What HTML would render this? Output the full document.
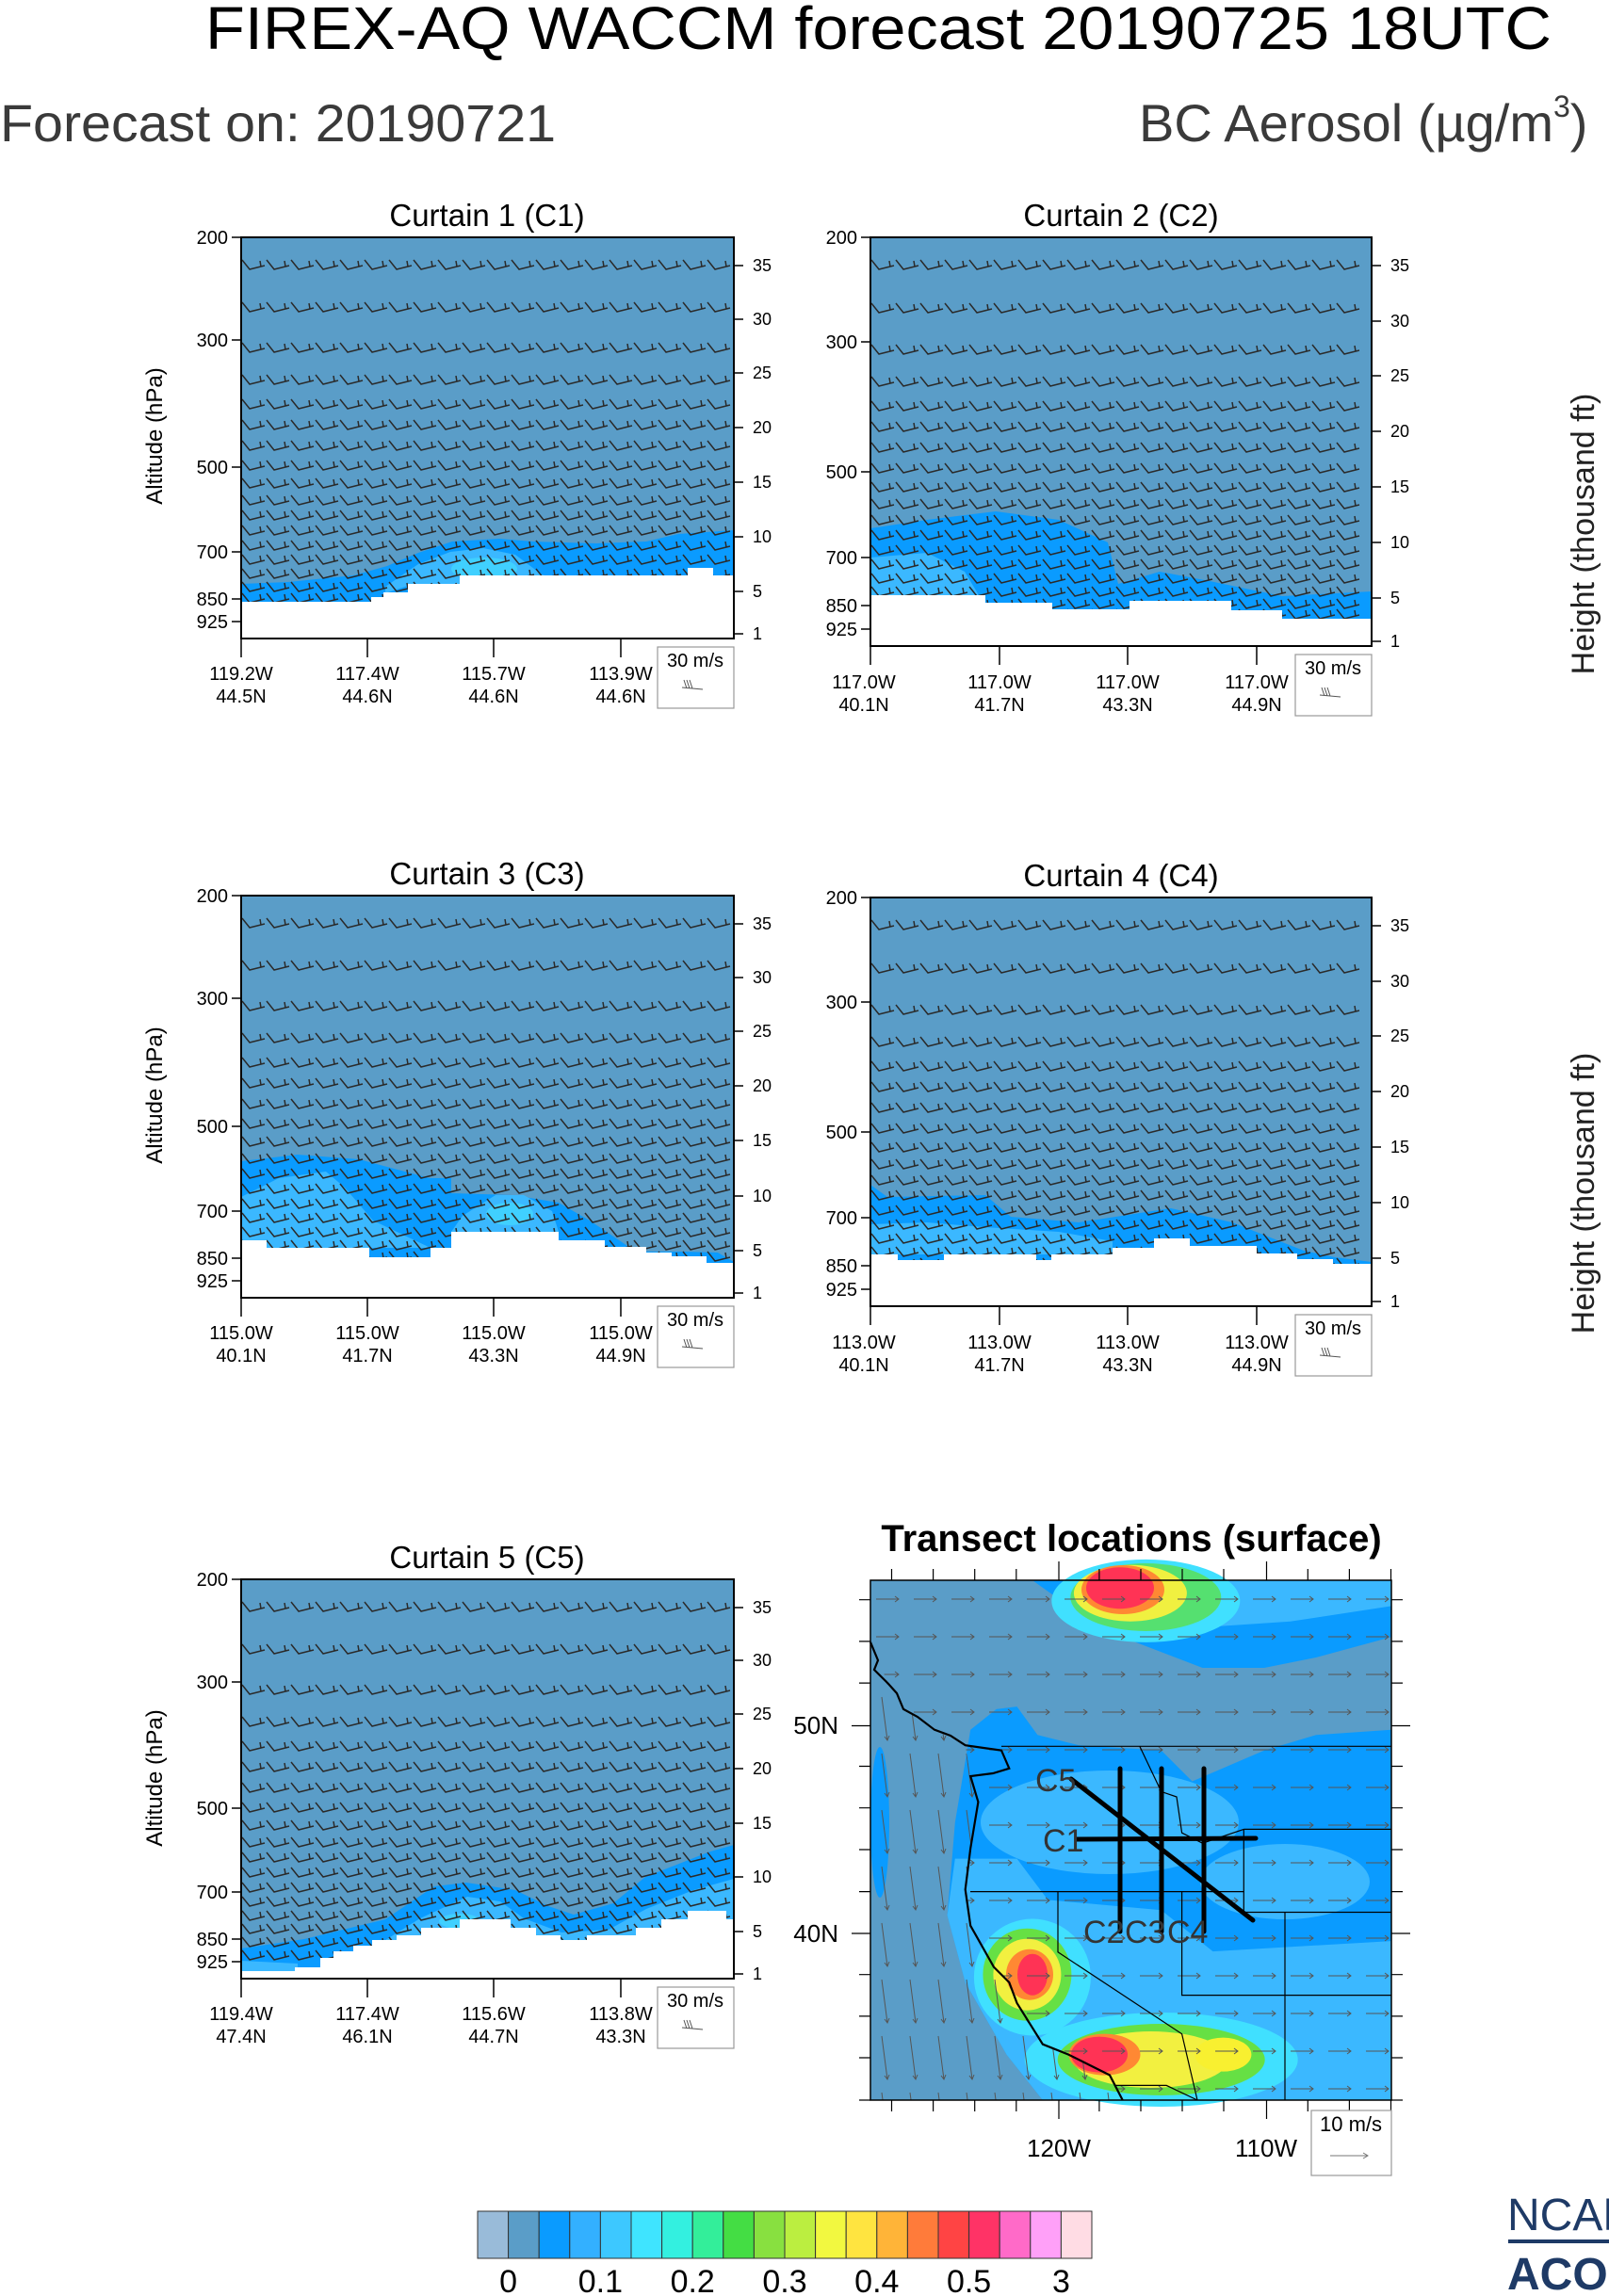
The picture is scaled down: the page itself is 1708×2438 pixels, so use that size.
<!DOCTYPE html>
<html><head><meta charset="utf-8"><style>
html,body{margin:0;padding:0;background:#fff}
svg{display:block}
text{font-family:"Liberation Sans",Arial,sans-serif}
</style></head><body>
<svg width="1708" height="2438" viewBox="0 0 1708 2438" xmlns="http://www.w3.org/2000/svg">
<defs>
<pattern id="barb" patternUnits="userSpaceOnUse" width="26" height="16">
<path d="M1,2 L9,12 L25,8 M21,9 L20,3" stroke="#2a2a2a" stroke-width="1.5" fill="none"/>
</pattern>
<rect id="row" x="0" y="0" width="520" height="16" fill="url(#barb)"/>
<pattern id="arr" patternUnits="userSpaceOnUse" width="40" height="40">
<path d="M6,20 L30,20 M26,17 L30,20 L26,23" stroke="#555" stroke-width="1" fill="none"/>
</pattern>
<pattern id="arrd" patternUnits="userSpaceOnUse" width="30" height="60">
<path d="M12,4 L18,50 M15,46 L18,50 L20,45" stroke="#555" stroke-width="1" fill="none"/>
</pattern>
<clipPath id="ocean"><polygon points="0,0 0,65.7 18.6,109.5 35,136.9 67.9,158.7 100.7,175.2 106.2,208 114.4,235.4 106.2,284.6 100.7,328.4 106.2,366.8 130.9,410.6 147.3,427 155.5,448.9 182.9,492.7 210.2,503.6 254,525.5 267.7,552 0,552"/></clipPath>
<clipPath id="land"><polygon points="0,0 553,0 553,552 267.7,552 254,525.5 210.2,503.6 182.9,492.7 155.5,448.9 147.3,427 130.9,410.6 106.2,366.8 100.7,328.4 106.2,284.6 114.4,235.4 106.2,208 100.7,175.2 67.9,158.7 35,136.9 18.6,109.5 0,65.7"/></clipPath>
</defs>

<!-- Header -->
<text x="218" y="52" font-size="64" textLength="1429" lengthAdjust="spacingAndGlyphs" fill="#000">FIREX-AQ WACCM forecast 20190725 18UTC</text>
<text x="0" y="150" font-size="56" textLength="590" lengthAdjust="spacingAndGlyphs" fill="#3a3a3a">Forecast on: 20190721</text>
<text x="1209" y="150" font-size="56" fill="#3a3a3a">BC Aerosol (µg/m<tspan font-size="32" dy="-26">3</tspan><tspan dy="26">)</tspan></text>

<!-- side labels -->
<text transform="translate(172,463) rotate(-90)" font-size="24" text-anchor="middle">Altitude (hPa)</text>
<text transform="translate(172,1163) rotate(-90)" font-size="24" text-anchor="middle">Altitude (hPa)</text>
<text transform="translate(172,1888) rotate(-90)" font-size="24" text-anchor="middle">Altitude (hPa)</text>
<text transform="translate(1692,567) rotate(-90)" font-size="34" text-anchor="middle" fill="#222">Height (thousand ft)</text>
<text transform="translate(1692,1267) rotate(-90)" font-size="34" text-anchor="middle" fill="#222">Height (thousand ft)</text>

<!-- ============ C1 ============ -->
<g transform="translate(256,252)">
<rect x="0" y="0" width="523" height="426" fill="#5a9dc8"/>
<polygon fill="#0a9bff" points="0,368 50,366 119,359 155,349 188,335 224,323 274,320 310,323 377,325 430,323 464,315 523,311 523,426 0,426"/>
<polygon fill="#3bb8ff" points="153,371 188,347 222,334 257,330 291,337 319,358 322,359 232,359 232,368 177,370 153,378"/>
<ellipse cx="258" cy="352" rx="35" ry="12" fill="#40d0ff"/>
<use href="#row" y="22"/><use href="#row" y="67"/><use href="#row" y="110"/><use href="#row" y="144"/><use href="#row" y="170"/><use href="#row" y="192"/><use href="#row" y="214"/><use href="#row" y="235"/><use href="#row" y="254"/><use href="#row" y="272"/><use href="#row" y="288"/><use href="#row" y="304"/><use href="#row" y="320"/><use href="#row" y="335"/><use href="#row" y="350"/><use href="#row" y="364"/><use href="#row" y="376"/>
<polygon fill="#fff" points="0,387 138,387 138,382 151,382 151,377 177,377 177,368 232,368 232,359 474,359 474,351 501,351 501,359 523,359 523,426 0,426"/>
<rect x="0" y="0" width="523" height="426" fill="none" stroke="#000" stroke-width="2"/>
<g stroke="#000" stroke-width="1.5">
<path d="M-10,0H0M-10,109H0M-10,244H0M-10,334H0M-10,384H0M-10,408H0"/>
<path d="M523,30h10M523,87h10M523,144h10M523,202h10M523,260h10M523,318h10M523,376h10M523,421h10"/>
<path d="M0,426v20M134,426v20M268,426v20M403,426v20"/>
</g>
<g font-size="20" text-anchor="end"><text x="-14" y="7">200</text><text x="-14" y="116">300</text><text x="-14" y="251">500</text><text x="-14" y="341">700</text><text x="-14" y="391">850</text><text x="-14" y="415">925</text></g>
<g font-size="18"><text x="543" y="36">35</text><text x="543" y="93">30</text><text x="543" y="150">25</text><text x="543" y="208">20</text><text x="543" y="266">15</text><text x="543" y="324">10</text><text x="543" y="382">5</text><text x="543" y="427">1</text></g>
<g font-size="20" text-anchor="middle"><text x="0" y="470">119.2W</text><text x="0" y="494">44.5N</text><text x="134" y="470">117.4W</text><text x="134" y="494">44.6N</text><text x="268" y="470">115.7W</text><text x="268" y="494">44.6N</text><text x="403" y="470">113.9W</text><text x="403" y="494">44.6N</text></g>
<rect x="442" y="435" width="81" height="65" fill="#fff" stroke="#999" stroke-width="1.2"/>
<text x="482" y="456" font-size="20" text-anchor="middle">30 m/s</text>
<path d="M468,478 L490,480 M470,470 L473,479 M473,470 L476,479 M476,470 L479,479" stroke="#555" fill="none"/>
<text x="261" y="-12" font-size="33" text-anchor="middle">Curtain 1 (C1)</text>
</g>

<!-- ============ C2 ============ -->
<g transform="translate(924,252)">
<rect x="0" y="0" width="532" height="434" fill="#5a9dc8"/>
<polygon fill="#0a9bff" points="0,309 60,300 133,291 200,300 252,324 263,368 307,355 360,365 437,381 532,376 532,434 0,434"/>
<polygon fill="#3bb8ff" points="0,340 60,335 100,355 115,380 0,380"/>
<use href="#row" y="22"/><use href="#row" y="68"/><use href="#row" y="112"/><use href="#row" y="146"/><use href="#row" y="172"/><use href="#row" y="194"/><use href="#row" y="216"/><use href="#row" y="238"/><use href="#row" y="258"/><use href="#row" y="276"/><use href="#row" y="293"/><use href="#row" y="309"/><use href="#row" y="325"/><use href="#row" y="340"/><use href="#row" y="355"/><use href="#row" y="369"/><use href="#row" y="382"/><use href="#row" y="393"/>
<polygon fill="#fff" points="0,380 122,380 122,388 193,388 193,395 275,395 275,386 383,386 383,396 437,396 437,405 532,405 532,434 0,434"/>
<rect x="0" y="0" width="532" height="434" fill="none" stroke="#000" stroke-width="2"/>
<g stroke="#000" stroke-width="1.5">
<path d="M-10,0H0M-10,111H0M-10,249H0M-10,340H0M-10,391H0M-10,416H0"/>
<path d="M532,30h10M532,89h10M532,147h10M532,206h10M532,265h10M532,324h10M532,383h10M532,429h10"/>
<path d="M0,434v20M137,434v20M273,434v20M410,434v20"/>
</g>
<g font-size="20" text-anchor="end"><text x="-14" y="7">200</text><text x="-14" y="118">300</text><text x="-14" y="256">500</text><text x="-14" y="347">700</text><text x="-14" y="398">850</text><text x="-14" y="423">925</text></g>
<g font-size="18"><text x="552" y="36">35</text><text x="552" y="95">30</text><text x="552" y="153">25</text><text x="552" y="212">20</text><text x="552" y="271">15</text><text x="552" y="330">10</text><text x="552" y="389">5</text><text x="552" y="435">1</text></g>
<g font-size="20" text-anchor="middle"><text x="-7" y="479">117.0W</text><text x="-7" y="503">40.1N</text><text x="137" y="479">117.0W</text><text x="137" y="503">41.7N</text><text x="273" y="479">117.0W</text><text x="273" y="503">43.3N</text><text x="410" y="479">117.0W</text><text x="410" y="503">44.9N</text></g>
<rect x="451" y="443" width="81" height="65" fill="#fff" stroke="#999" stroke-width="1.2"/>
<text x="491" y="464" font-size="20" text-anchor="middle">30 m/s</text>
<path d="M477,486 L499,488 M479,478 L482,487 M482,478 L485,487 M485,478 L488,487" stroke="#555" fill="none"/>
<text x="266" y="-12" font-size="33" text-anchor="middle">Curtain 2 (C2)</text>
</g>

<!-- ============ C3 ============ -->
<g transform="translate(256,951)">
<rect x="0" y="0" width="523" height="427" fill="#5a9dc8"/>
<polygon fill="#0a9bff" points="0,282 60,275 125,280 200,300 223,300 223,316 288,318 337,326 370,345 419,378 470,378 506,379 523,389 523,427 0,427"/>
<polygon fill="#3bb8ff" points="0,320 40,300 90,293 110,310 140,345 201,374 0,374"/>
<polygon fill="#3bb8ff" points="235,340 270,318 300,318 330,335 337,357 223,357"/>
<ellipse cx="285" cy="338" rx="25" ry="12" fill="#40d0ff"/>
<use href="#row" y="22"/><use href="#row" y="67"/><use href="#row" y="110"/><use href="#row" y="144"/><use href="#row" y="170"/><use href="#row" y="192"/><use href="#row" y="214"/><use href="#row" y="235"/><use href="#row" y="254"/><use href="#row" y="272"/><use href="#row" y="288"/><use href="#row" y="304"/><use href="#row" y="320"/><use href="#row" y="335"/><use href="#row" y="350"/><use href="#row" y="364"/><use href="#row" y="376"/>
<polygon fill="#fff" points="0,366 27,366 27,374 136,374 136,384 201,384 201,374 223,374 223,357 337,357 337,366 386,366 386,373 430,373 430,379 457,379 457,383 494,383 494,390 523,390 523,427 0,427"/>
<rect x="0" y="0" width="523" height="427" fill="none" stroke="#000" stroke-width="2"/>
<g stroke="#000" stroke-width="1.5">
<path d="M-10,0H0M-10,109H0M-10,245H0M-10,335H0M-10,385H0M-10,409H0"/>
<path d="M523,30h10M523,87h10M523,144h10M523,202h10M523,260h10M523,319h10M523,377h10M523,422h10"/>
<path d="M0,427v20M134,427v20M268,427v20M403,427v20"/>
</g>
<g font-size="20" text-anchor="end"><text x="-14" y="7">200</text><text x="-14" y="116">300</text><text x="-14" y="252">500</text><text x="-14" y="342">700</text><text x="-14" y="392">850</text><text x="-14" y="416">925</text></g>
<g font-size="18"><text x="543" y="36">35</text><text x="543" y="93">30</text><text x="543" y="150">25</text><text x="543" y="208">20</text><text x="543" y="266">15</text><text x="543" y="325">10</text><text x="543" y="383">5</text><text x="543" y="428">1</text></g>
<g font-size="20" text-anchor="middle"><text x="0" y="471">115.0W</text><text x="0" y="495">40.1N</text><text x="134" y="471">115.0W</text><text x="134" y="495">41.7N</text><text x="268" y="471">115.0W</text><text x="268" y="495">43.3N</text><text x="403" y="471">115.0W</text><text x="403" y="495">44.9N</text></g>
<rect x="442" y="436" width="81" height="65" fill="#fff" stroke="#999" stroke-width="1.2"/>
<text x="482" y="457" font-size="20" text-anchor="middle">30 m/s</text>
<path d="M468,479 L490,481 M470,471 L473,480 M473,471 L476,480 M476,471 L479,480" stroke="#555" fill="none"/>
<text x="261" y="-12" font-size="33" text-anchor="middle">Curtain 3 (C3)</text>
</g>

<!-- ============ C4 ============ -->
<g transform="translate(924,953)">
<rect x="0" y="0" width="532" height="434" fill="#5a9dc8"/>
<polygon fill="#0a9bff" points="0,305 18,318 122,316 149,339 221,345 319,330 384,345 460,375 493,382 532,387 532,434 0,434"/>
<polygon fill="#3bb8ff" points="0,347 60,345 120,350 200,355 257,365 257,379 0,379"/>
<use href="#row" y="22"/><use href="#row" y="68"/><use href="#row" y="112"/><use href="#row" y="146"/><use href="#row" y="172"/><use href="#row" y="194"/><use href="#row" y="216"/><use href="#row" y="238"/><use href="#row" y="258"/><use href="#row" y="276"/><use href="#row" y="293"/><use href="#row" y="309"/><use href="#row" y="325"/><use href="#row" y="340"/><use href="#row" y="355"/><use href="#row" y="369"/><use href="#row" y="381"/>
<polygon fill="#fff" points="0,379 29,379 29,385 78,385 78,379 176,379 176,385 192,385 192,379 257,379 257,372 301,372 301,362 339,362 339,370 410,370 410,378 453,378 453,384 491,384 491,389 532,389 532,434 0,434"/>
<rect x="0" y="0" width="532" height="434" fill="none" stroke="#000" stroke-width="2"/>
<g stroke="#000" stroke-width="1.5">
<path d="M-10,0H0M-10,111H0M-10,249H0M-10,340H0M-10,391H0M-10,416H0"/>
<path d="M532,30h10M532,89h10M532,147h10M532,206h10M532,265h10M532,324h10M532,383h10M532,429h10"/>
<path d="M0,434v20M137,434v20M273,434v20M410,434v20"/>
</g>
<g font-size="20" text-anchor="end"><text x="-14" y="7">200</text><text x="-14" y="118">300</text><text x="-14" y="256">500</text><text x="-14" y="347">700</text><text x="-14" y="398">850</text><text x="-14" y="423">925</text></g>
<g font-size="18"><text x="552" y="36">35</text><text x="552" y="95">30</text><text x="552" y="153">25</text><text x="552" y="212">20</text><text x="552" y="271">15</text><text x="552" y="330">10</text><text x="552" y="389">5</text><text x="552" y="435">1</text></g>
<g font-size="20" text-anchor="middle"><text x="-7" y="479">113.0W</text><text x="-7" y="503">40.1N</text><text x="137" y="479">113.0W</text><text x="137" y="503">41.7N</text><text x="273" y="479">113.0W</text><text x="273" y="503">43.3N</text><text x="410" y="479">113.0W</text><text x="410" y="503">44.9N</text></g>
<rect x="451" y="443" width="81" height="65" fill="#fff" stroke="#999" stroke-width="1.2"/>
<text x="491" y="464" font-size="20" text-anchor="middle">30 m/s</text>
<path d="M477,486 L499,488 M479,478 L482,487 M482,478 L485,487 M485,478 L488,487" stroke="#555" fill="none"/>
<text x="266" y="-12" font-size="33" text-anchor="middle">Curtain 4 (C4)</text>
</g>

<!-- ============ C5 ============ -->
<g transform="translate(256,1677)">
<rect x="0" y="0" width="523" height="424" fill="#5a9dc8"/>
<polygon fill="#0a9bff" points="0,392 67,382 153,361 205,326 239,322 291,330 326,347 353,356 395,344 429,316 498,289 523,282 523,424 0,424"/>
<polygon fill="#3bb8ff" points="150,385 190,360 240,337 275,342 300,360 340,375 390,372 430,350 480,330 523,318 523,424 150,424"/>
<polygon fill="#3bb8ff" points="0,405 60,408 60,424 0,424"/>
<ellipse cx="232" cy="363" rx="22" ry="8" fill="#40d0ff"/>
<use href="#row" y="22"/><use href="#row" y="67"/><use href="#row" y="110"/><use href="#row" y="144"/><use href="#row" y="170"/><use href="#row" y="192"/><use href="#row" y="214"/><use href="#row" y="235"/><use href="#row" y="254"/><use href="#row" y="272"/><use href="#row" y="288"/><use href="#row" y="304"/><use href="#row" y="320"/><use href="#row" y="335"/><use href="#row" y="350"/><use href="#row" y="364"/><use href="#row" y="378"/><use href="#row" y="392"/>
<polygon fill="#fff" points="0,416 57,416 57,412 84,412 84,402 98,402 98,395 119,395 119,389 139,389 139,383 165,383 165,378 191,378 191,370 232,370 232,361 286,361 286,370 313,370 313,378 339,378 339,383 367,383 367,378 419,378 419,370 446,370 446,361 474,361 474,352 515,352 515,361 523,361 523,424 0,424"/>
<rect x="0" y="0" width="523" height="424" fill="none" stroke="#000" stroke-width="2"/>
<g stroke="#000" stroke-width="1.5">
<path d="M-10,0H0M-10,109H0M-10,243H0M-10,332H0M-10,382H0M-10,406H0"/>
<path d="M523,30h10M523,86h10M523,143h10M523,201h10M523,259h10M523,316h10M523,374h10M523,419h10"/>
<path d="M0,424v20M134,424v20M268,424v20M403,424v20"/>
</g>
<g font-size="20" text-anchor="end"><text x="-14" y="7">200</text><text x="-14" y="116">300</text><text x="-14" y="250">500</text><text x="-14" y="339">700</text><text x="-14" y="389">850</text><text x="-14" y="413">925</text></g>
<g font-size="18"><text x="543" y="36">35</text><text x="543" y="92">30</text><text x="543" y="149">25</text><text x="543" y="207">20</text><text x="543" y="265">15</text><text x="543" y="322">10</text><text x="543" y="380">5</text><text x="543" y="425">1</text></g>
<g font-size="20" text-anchor="middle"><text x="0" y="468">119.4W</text><text x="0" y="492">47.4N</text><text x="134" y="468">117.4W</text><text x="134" y="492">46.1N</text><text x="268" y="468">115.6W</text><text x="268" y="492">44.7N</text><text x="403" y="468">113.8W</text><text x="403" y="492">43.3N</text></g>
<rect x="442" y="433" width="81" height="65" fill="#fff" stroke="#999" stroke-width="1.2"/>
<text x="482" y="454" font-size="20" text-anchor="middle">30 m/s</text>
<path d="M468,476 L490,478 M470,468 L473,477 M473,468 L476,477 M476,468 L479,477" stroke="#555" fill="none"/>
<text x="261" y="-12" font-size="33" text-anchor="middle">Curtain 5 (C5)</text>
</g>

<!-- ============ MAP ============ -->
<text x="1201" y="1647" font-size="40" font-weight="bold" text-anchor="middle">Transect locations (surface)</text>
<g transform="translate(924,1678)">
<rect x="0" y="0" width="553" height="552" fill="#5a9dc8"/>
<ellipse cx="10" cy="257" rx="10" ry="80" fill="#0a9bff"/>
<polygon fill="#0a9bff" points="133.6,136.9 155.5,134.1 177.4,164.2 221.2,175.2 308.7,180.6 341.6,213.5 418.2,180.6 473,164.2 553,158.7 553,552 182.9,552 144.5,503.6 100.7,427 81.6,355.8 89.8,257.3 106.2,158.7"/>
<polygon fill="#0a9bff" points="171.9,0 553,0 553,60.2 473,82 418,93 352.5,93 281.4,65.7 210.2,27.4"/>
<polygon fill="#3bb8ff" points="233.7,0 553,0 553,27.4 445.6,43.8 363.5,49.3 297.8,32.9 254,11"/>
<ellipse cx="254" cy="257" rx="137" ry="55" fill="#3bb8ff"/>
<polygon fill="#3bb8ff" points="89.8,295.6 155.5,295.6 188.3,339.4 308.7,350.3 363.5,394.1 553,383.1 553,552 182.9,552 144.5,503.6 100.7,427 81.6,355.8"/>
<ellipse cx="440" cy="320" rx="90" ry="40" fill="#3bb8ff"/>
<ellipse cx="171.9" cy="421.5" rx="62" ry="62" fill="#40e0ff"/>
<ellipse cx="308.7" cy="509" rx="145" ry="50" fill="#40e0ff"/>
<ellipse cx="292.3" cy="21.9" rx="100" ry="44" fill="#40e0ff"/>
<ellipse cx="292.3" cy="18" rx="80" ry="36" fill="#55e070"/>
<ellipse cx="275.9" cy="13.7" rx="60" ry="30" fill="#f0f040"/>
<ellipse cx="268" cy="10" rx="44" ry="26" fill="#ff8833"/>
<ellipse cx="265" cy="8.2" rx="36" ry="22" fill="#ff3355"/>
<ellipse cx="166.4" cy="418.7" rx="47" ry="49" fill="#66e044"/>
<ellipse cx="166.4" cy="418.7" rx="36" ry="38" fill="#f2f040"/>
<ellipse cx="169" cy="418.7" rx="25" ry="27" fill="#ff8833"/>
<ellipse cx="172" cy="418.7" rx="16" ry="22" fill="#ff3355"/>
<ellipse cx="308.7" cy="509" rx="110" ry="38" fill="#66e044"/>
<ellipse cx="297.8" cy="509" rx="82" ry="30" fill="#f2f040"/>
<ellipse cx="374.4" cy="503.6" rx="30" ry="18" fill="#f8f030"/>
<ellipse cx="248.5" cy="503.6" rx="38" ry="22" fill="#ff8833"/>
<ellipse cx="243" cy="503.6" rx="30" ry="19" fill="#ff3355"/>
<rect x="0" y="0" width="553" height="552" fill="url(#arr)" clip-path="url(#land)"/>
<rect x="0" y="0" width="553" height="552" fill="url(#arrd)" clip-path="url(#ocean)"/>
<g stroke="#000" stroke-width="1.2" fill="none">
<path d="M139,176.3H553M106,330.6H396.3M396.3,264.4V352.5M396.3,264.4H553M396.3,352.5H553M440,352.5V552M330.6,330.6V440.6H553M199,330.6V394.8L330.6,481.7L347,552M285.8,176.3L308.7,224.4L325,230L330.6,268.2L352.5,279.2L396.3,264.4M259.5,536.4H314.2L347,552"/>
</g>
<path d="M0,65.7 L8,85 L4,95 L18.6,109.5 L28,120 L35,136.9 L50,145 L67.9,158.7 L85,165 L100.7,175.2 L120,178 L139,180.6 L147.3,199.8 L130,205 L106.2,208 L114.4,235.4 L106.2,284.6 L100.7,328.4 L106.2,366.8 L130.9,410.6 L147.3,427 L155.5,448.9 L182.9,492.7 L210.2,503.6 L254,525.5 L267.7,552" stroke="#000" stroke-width="2.2" fill="none"/>
<g stroke="#000" stroke-width="5" stroke-linecap="round" fill="none">
<path d="M219,275 L409,274"/>
<path d="M265,200 L265,373"/>
<path d="M309,200 L309,373"/>
<path d="M354,200 L354,373"/>
<path d="M213,211 L406,361"/>
</g>
<g font-size="34" fill="#333">
<text x="175" y="224">C5</text>
<text x="183" y="288">C1</text>
<text x="226" y="385">C2</text>
<text x="270" y="385">C3</text>
<text x="315" y="385">C4</text>
</g>
<rect x="0" y="0" width="553" height="552" fill="none" stroke="#000" stroke-width="1.5"/>
<g stroke="#000" stroke-width="1.2">
<path d="M0,20.7h-12M0,64.9h-12M0,109.1h-12M0,154.5h-20M0,197.5h-12M0,241.7h-12M0,286h-12M0,330.6h-12M0,375h-20M0,418.7h-12M0,462.9h-12M0,507h-12M0,552h-12"/>
<path d="M553,20.7h12M553,64.9h12M553,109.1h12M553,154.5h20M553,197.5h12M553,241.7h12M553,286h12M553,330.6h12M553,375h20M553,418.7h12M553,462.9h12M553,507h12M553,552h12"/>
<path d="M22.5,0v-12M66.6,0v-12M110.7,0v-12M154.8,0v-12M200,0v-20M242.9,0v-12M287,0v-12M331,0v-12M375,0v-12M420.5,0v-20M464.3,0v-12M508.4,0v-12M552.5,0v-12"/>
<path d="M22.5,552v12M66.6,552v12M110.7,552v12M154.8,552v12M200,552v20M242.9,552v12M287,552v12M331,552v12M375,552v12M420.5,552v20M464.3,552v12M508.4,552v12M552.5,552v12"/>
</g>
<g font-size="26" text-anchor="end"><text x="-34" y="163">50N</text><text x="-34" y="384">40N</text></g>
<g font-size="26" text-anchor="middle"><text x="200" y="612">120W</text><text x="420" y="612">110W</text></g>
<rect x="468" y="563" width="85" height="69" fill="#fff" stroke="#999" stroke-width="1.2"/>
<text x="510" y="585" font-size="22" text-anchor="middle">10 m/s</text>
<path d="M488,611 L528,611 M523,608 L528,611 L523,614" stroke="#777" fill="none"/>
</g>

<!-- ============ Colorbar ============ -->
<g transform="translate(507,2348)" stroke="#333" stroke-width="1">
<rect x="0" y="0" width="32.6" height="50" fill="#99bbd9"/>
<rect x="32.6" y="0" width="32.6" height="50" fill="#5a9dc8"/>
<rect x="65.2" y="0" width="32.6" height="50" fill="#0a9bff"/>
<rect x="97.8" y="0" width="32.6" height="50" fill="#33b0ff"/>
<rect x="130.4" y="0" width="32.6" height="50" fill="#3dc8ff"/>
<rect x="163" y="0" width="32.6" height="50" fill="#3fe4ff"/>
<rect x="195.6" y="0" width="32.6" height="50" fill="#33f0e0"/>
<rect x="228.2" y="0" width="32.6" height="50" fill="#33ee9a"/>
<rect x="260.8" y="0" width="32.6" height="50" fill="#44dd44"/>
<rect x="293.4" y="0" width="32.6" height="50" fill="#88e040"/>
<rect x="326" y="0" width="32.6" height="50" fill="#bbee40"/>
<rect x="358.6" y="0" width="32.6" height="50" fill="#f2f840"/>
<rect x="391.2" y="0" width="32.6" height="50" fill="#ffe440"/>
<rect x="423.8" y="0" width="32.6" height="50" fill="#ffb438"/>
<rect x="456.4" y="0" width="32.6" height="50" fill="#ff7b3a"/>
<rect x="489" y="0" width="32.6" height="50" fill="#ff4444"/>
<rect x="521.6" y="0" width="32.6" height="50" fill="#ff3366"/>
<rect x="554.2" y="0" width="32.6" height="50" fill="#ff6ac8"/>
<rect x="586.8" y="0" width="32.6" height="50" fill="#ffa0f8"/>
<rect x="619.4" y="0" width="32.6" height="50" fill="#ffdce4"/>
</g>
<g font-size="34" text-anchor="middle">
<text x="539.6" y="2434">0</text><text x="637.4" y="2434">0.1</text><text x="735.2" y="2434">0.2</text><text x="833" y="2434">0.3</text><text x="930.8" y="2434">0.4</text><text x="1028.6" y="2434">0.5</text><text x="1126.4" y="2434">3</text>
</g>

<!-- NCAR ACOM logo -->
<text x="1600" y="2368" font-size="48" fill="#1e3a66">NCAR</text>
<rect x="1601" y="2378" width="107" height="4" fill="#1e3a66"/>
<text x="1600" y="2431" font-size="48" font-weight="bold" fill="#1e3a66">ACOM</text>
</svg>
</body></html>
